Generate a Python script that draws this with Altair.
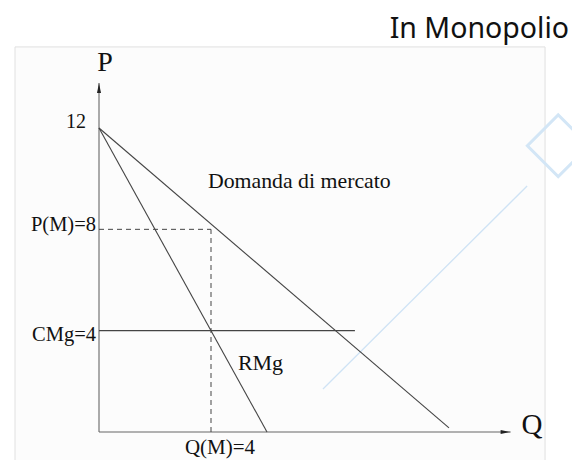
import altair as alt
import pandas as pd

# ---- data (economic values) ----
demand_q = [0, 12.5]
demand_p = [12, 0.16]
mr_q = [0, 6]
mr_p = [12, 0]
cmg_q = [0, 9.14]
cmg_p = [4, 4]
pm_dash_q = [0, 4]
pm_dash_p = [8, 8]
qm_dash_q = [4, 4]
qm_dash_p = [0, 8]
p_axis_q = [0, 0]
p_axis_p = [0, 13.78]
q_axis_q = [0, 14.7]
q_axis_p = [0, 0]

W, H = 564, 452
kx = 28.0
ky = 304 / 12
x_dom = [-91 / kx, (W - 91) / kx]
y_dom = [-(H - 424) / ky, 424 / ky]

xs = alt.Scale(domain=x_dom, nice=False, zero=False)
ys = alt.Scale(domain=y_dom, nice=False, zero=False)


def seg(qs, ps, name):
    return pd.DataFrame({"q": qs, "p": ps, "s": name})


def line_layer(df, color="#444", width=1.1, dash=None):
    kw = dict(color=color, strokeWidth=width)
    if dash:
        kw["strokeDash"] = dash
    return alt.Chart(df).mark_line(**kw).encode(
        x=alt.X("q:Q", scale=xs, axis=None),
        y=alt.Y("p:Q", scale=ys, axis=None),
    )


# frame
frame = alt.Chart(pd.DataFrame({"q": [-3.0], "q2": [15.93], "p": [15.2], "p2": [-3.0]})).mark_rect(
    fill="#fcfcfc", stroke="#e0e0e0", strokeWidth=1
).encode(
    x=alt.X("q:Q", scale=xs, axis=None), x2="q2",
    y=alt.Y("p:Q", scale=ys, axis=None), y2="p2",
)

# faint watermark line and logo outline
wm = line_layer(seg([8.0, 15.29], [1.70, 9.71], "wm"), color="#cfe3f5", width=1.3)
logo = alt.Chart(pd.DataFrame({"q": [16.4], "p": [11.3]})).mark_point(
    shape="square", angle=45, filled=False, stroke="#d3e6f6", strokeWidth=3, size=1900, opacity=1
).encode(x=alt.X("q:Q", scale=xs, axis=None), y=alt.Y("p:Q", scale=ys, axis=None))

axes = [
    line_layer(seg(p_axis_q, p_axis_p, "pa"), color="#666", width=1.1),
    line_layer(seg(q_axis_q, q_axis_p, "qa"), color="#666", width=1.1),
]
curves = [
    line_layer(seg(demand_q, demand_p, "d")),
    line_layer(seg(mr_q, mr_p, "mr")),
    line_layer(seg(cmg_q, cmg_p, "cmg")),
    line_layer(seg(pm_dash_q, pm_dash_p, "pd"), dash=[5, 4], width=1),
    line_layer(seg(qm_dash_q, qm_dash_p, "qd"), dash=[5, 4], width=1),
]

up_arrow = alt.Chart(pd.DataFrame({"q": [p_axis_q[1]], "p": [p_axis_p[1]]})).mark_point(
    shape="M0,0L-0.4,2L0.4,2Z", filled=True, color="#222", size=100, opacity=1
).encode(x=alt.X("q:Q", scale=xs, axis=None), y=alt.Y("p:Q", scale=ys, axis=None))

right_arrow = alt.Chart(pd.DataFrame({"q": [q_axis_q[1]], "p": [q_axis_p[1]]})).mark_point(
    shape="M0,0L-2,-0.4L-2,0.4Z", filled=True, color="#222", size=100, opacity=1
).encode(x=alt.X("q:Q", scale=xs, axis=None), y=alt.Y("p:Q", scale=ys, axis=None))

SERIF = "Liberation Serif"


def label(txt, q, p, size=20, align="left", dx=0, dy=0):
    return alt.Chart(pd.DataFrame({"q": [q], "p": [p], "t": [txt]})).mark_text(
        font=SERIF, fontSize=size, align=align, baseline="middle", dx=dx, dy=dy, color="#111"
    ).encode(x=alt.X("q:Q", scale=xs, axis=None), y=alt.Y("p:Q", scale=ys, axis=None), text="t:N")


labels = [
    label("P", 0, 14.57, size=28, align="center", dx=6),
    label("Q", 15.46, 0.28, size=29, align="center"),
    label("12", 0, 12, size=20, align="right", dx=-13, dy=-6),
    label("P(M)=8", 0, 8, size=20.5, align="right", dx=-3, dy=-4),
    label("CMg=4", 0, 4, size=20.5, align="right", dx=-3, dy=4),
    label("Q(M)=4", 4, 0, size=21, align="center", dx=9, dy=16),
    label("RMg", 4.96, 2.72, size=22),
    label("Domanda di mercato", 3.89, 9.9, size=21.8),
]

title = alt.Chart(pd.DataFrame({"t": ["In Monopolio"]})).mark_text(
    font="Noto Sans", fontSize=28.5, align="right", baseline="alphabetic", color="#111"
).encode(x=alt.value(561), y=alt.value(30), text="t:N")

chart = alt.layer(frame, wm, logo, *axes, *curves, up_arrow, right_arrow, *labels, title).properties(
    width=W, height=H, autosize=alt.AutoSizeParams(type="none"), padding=0
).configure_view(stroke=None)

chart.save("out.html", embed_options={"renderer": "svg", "actions": False})
